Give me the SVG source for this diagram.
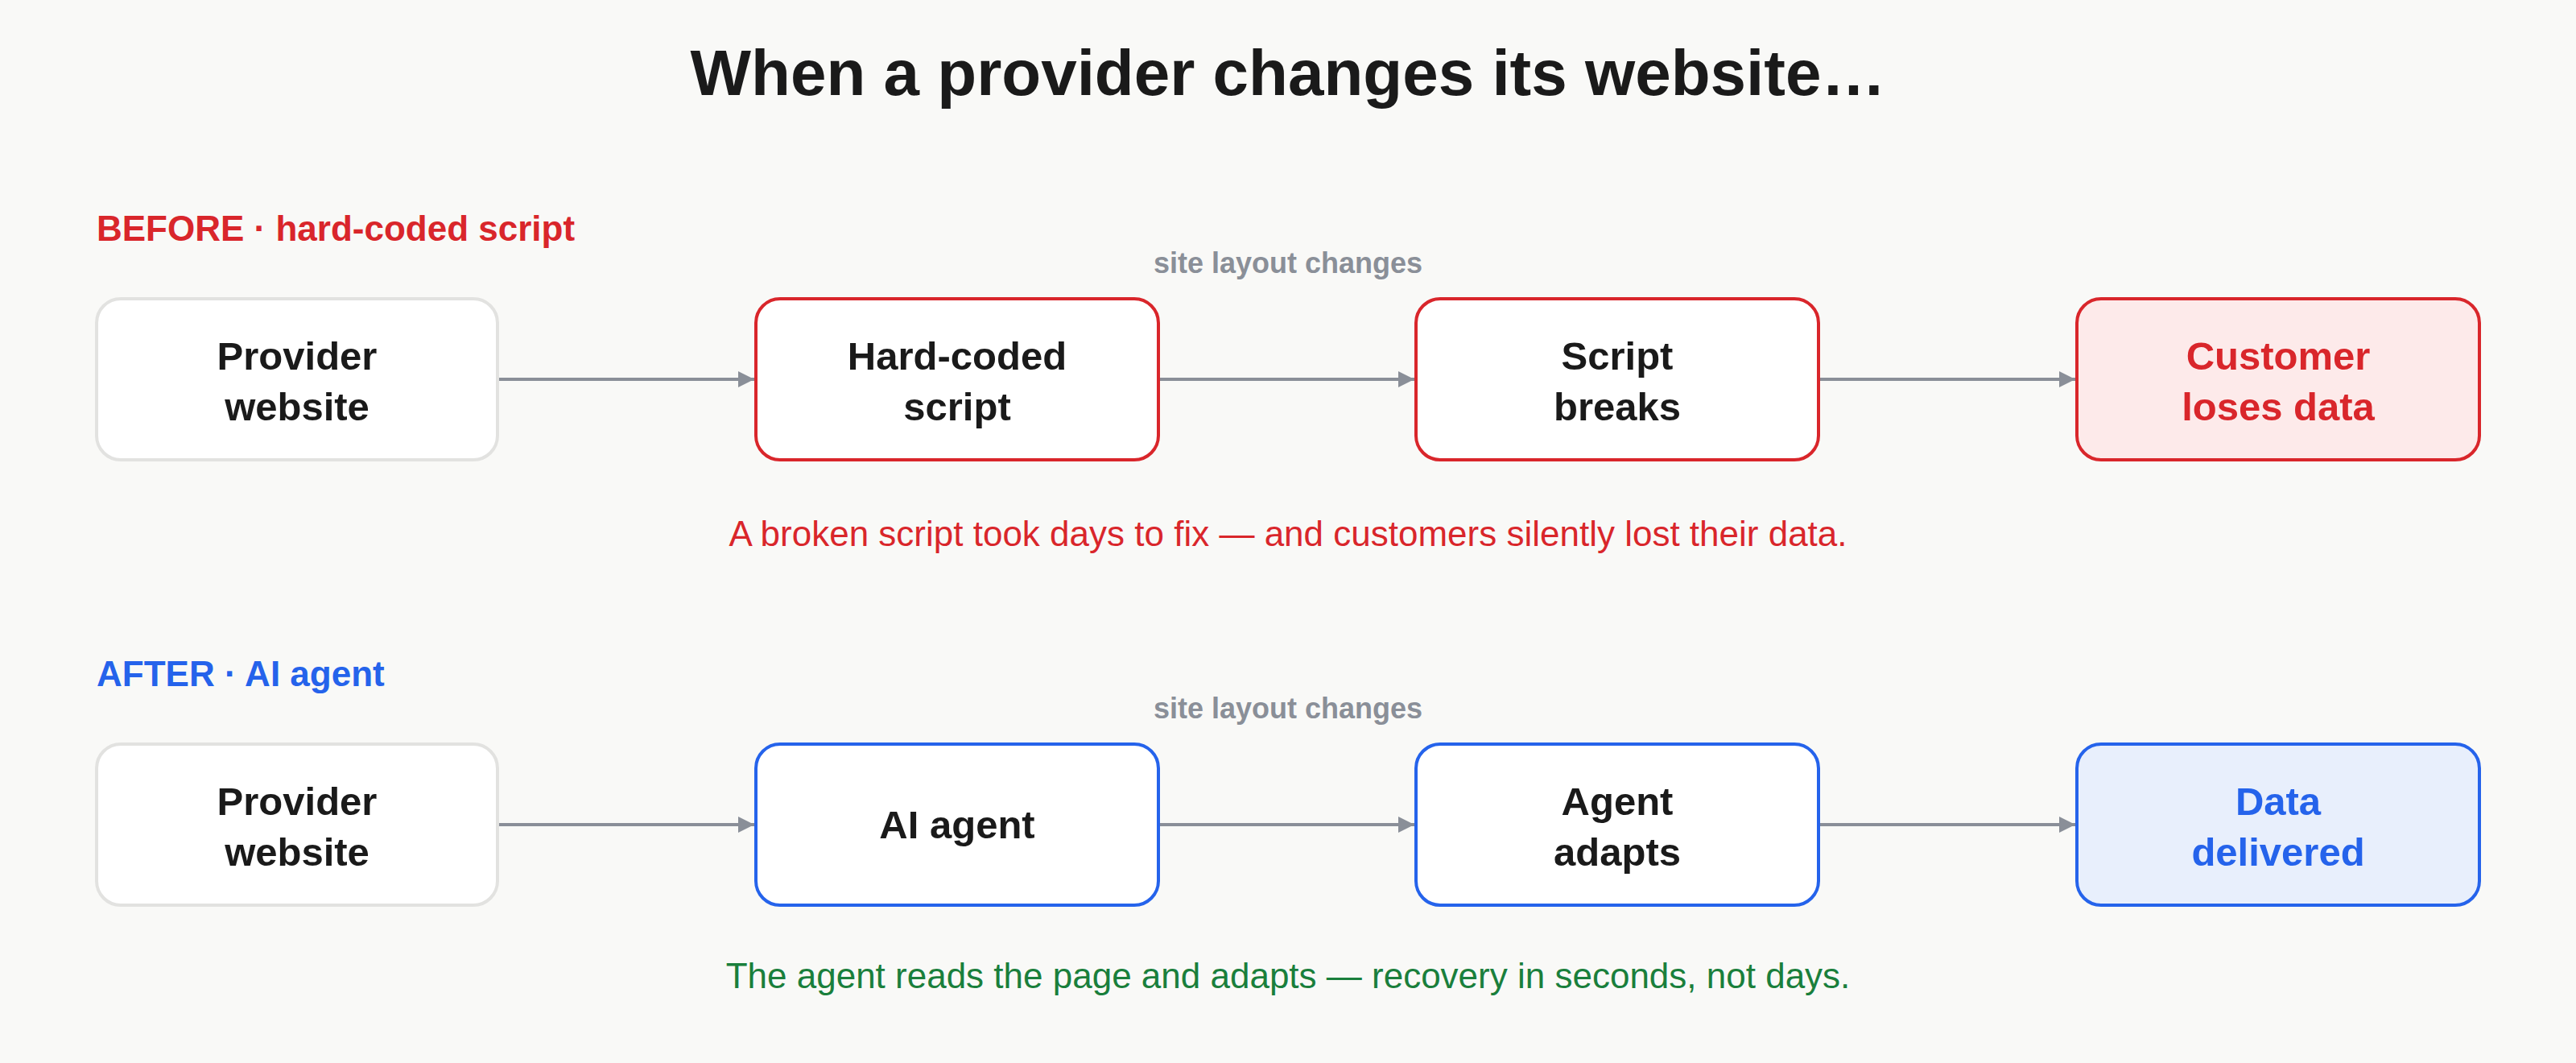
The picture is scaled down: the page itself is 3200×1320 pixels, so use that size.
<svg xmlns="http://www.w3.org/2000/svg" width="3200" height="1320" viewBox="0 0 3200 1320">
<defs>
<marker id="ah" viewBox="0 0 10 10" refX="10" refY="5" markerWidth="20" markerHeight="20" markerUnits="userSpaceOnUse" orient="auto"><path d="M0,0 L10,5 L0,10 z" fill="#8a8f98"/></marker>
<style>
text{font-family:"Liberation Sans",Arial,sans-serif}
.box{stroke-width:4}
.n{fill:#fff;stroke:#e2e2e0}
.r{fill:#fff;stroke:#d9262b}
.rf{fill:#fdeaea;stroke:#d9262b}
.b{fill:#fff;stroke:#2563eb}
.bf{fill:#e8effc;stroke:#2563eb}
.t{font-size:49px;font-weight:bold;text-anchor:middle;fill:#1a1a1a}
.tr{fill:#d9262b}.tb{fill:#2563eb}
.lbl{font-size:44px;font-weight:bold}
.sl{font-size:36px;font-weight:bold;fill:#8a8f98;text-anchor:middle}
.cap{font-size:44px;text-anchor:middle}
.c{stroke:#8a8f98;stroke-width:4;fill:none}
</style>
</defs>
<rect width="3200" height="1320" fill="#f9f9f7"/>
<text x="1600" y="118" text-anchor="middle" font-size="80" font-weight="bold" fill="#1a1a1a">When a provider changes its website…</text>
<text x="120" y="299" class="lbl" fill="#d9262b">BEFORE · hard-coded script</text>
<text x="1600" y="339" class="sl">site layout changes</text>
<g id="connectors">
<line class="c" x1="620" y1="471" x2="937" y2="471" marker-end="url(#ah)"/>
<line class="c" x1="1441" y1="471" x2="1757" y2="471" marker-end="url(#ah)"/>
<line class="c" x1="2261" y1="471" x2="2578" y2="471" marker-end="url(#ah)"/>
<line class="c" x1="620" y1="1024" x2="937" y2="1024" marker-end="url(#ah)"/>
<line class="c" x1="1441" y1="1024" x2="1757" y2="1024" marker-end="url(#ah)"/>
<line class="c" x1="2261" y1="1024" x2="2578" y2="1024" marker-end="url(#ah)"/>
</g>
<g id="b1"><rect class="box n" x="120" y="371" width="498" height="200" rx="30"/><text class="t" x="369" y="459">Provider</text><text class="t" x="369" y="522">website</text></g>
<g id="b2"><rect class="box r" x="939" y="371" width="500" height="200" rx="30"/><text class="t" x="1189" y="459">Hard-coded</text><text class="t" x="1189" y="522">script</text></g>
<g id="b3"><rect class="box r" x="1759" y="371" width="500" height="200" rx="30"/><text class="t" x="2009" y="459">Script</text><text class="t" x="2009" y="522">breaks</text></g>
<g id="b4"><rect class="box rf" x="2580" y="371" width="500" height="200" rx="30"/><text class="t tr" x="2830" y="459">Customer</text><text class="t tr" x="2830" y="522">loses data</text></g>
<text x="1600" y="678" class="cap" fill="#d9262b">A broken script took days to fix — and customers silently lost their data.</text>
<text x="120" y="852" class="lbl" fill="#2563eb">AFTER · AI agent</text>
<text x="1600" y="892" class="sl">site layout changes</text>
<g id="a1"><rect class="box n" x="120" y="924" width="498" height="200" rx="30"/><text class="t" x="369" y="1012">Provider</text><text class="t" x="369" y="1075">website</text></g>
<g id="a2"><rect class="box b" x="939" y="924" width="500" height="200" rx="30"/><text class="t" x="1189" y="1041">AI agent</text></g>
<g id="a3"><rect class="box b" x="1759" y="924" width="500" height="200" rx="30"/><text class="t" x="2009" y="1012">Agent</text><text class="t" x="2009" y="1075">adapts</text></g>
<g id="a4"><rect class="box bf" x="2580" y="924" width="500" height="200" rx="30"/><text class="t tb" x="2830" y="1012">Data</text><text class="t tb" x="2830" y="1075">delivered</text></g>
<text x="1600" y="1227" class="cap" fill="#1a7f3c">The agent reads the page and adapts — recovery in seconds, not days.</text>
</svg>
